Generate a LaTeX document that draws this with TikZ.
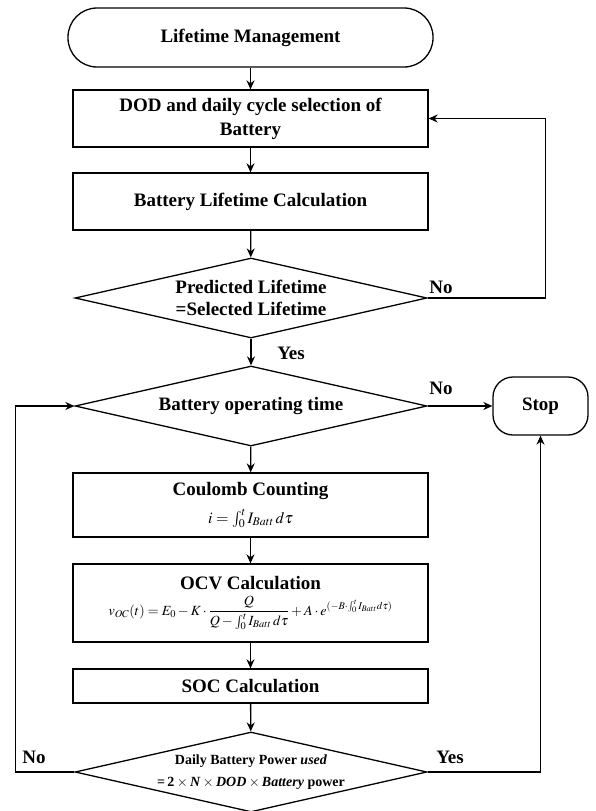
\documentclass[tikz,border=0pt]{standalone}
\usepackage{mathptmx}
\usepackage{fontspec}
\setmainfont{Liberation Serif}
\usepackage{tikz}
\usetikzlibrary{arrows.meta,shapes.geometric,positioning}
\tikzset{font=\bfseries\fontsize{19}{22}\selectfont}
\tikzset{every node/.append style={transform shape=false}}
\tikzset{
  procbox/.style={draw,line width=1.3pt,rectangle,minimum width=355pt,inner sep=2pt,align=center},
  termbox/.style={draw,line width=1.3pt,rectangle,rounded corners=29pt,minimum width=365pt,minimum height=59pt},
  decide/.style={draw,line width=1.3pt,diamond,aspect=4.4,minimum width=352pt,minimum height=80pt,inner sep=0pt,align=center},
  flow/.style={line width=1.3pt,-{Stealth[length=9pt,width=8pt]}},
  lbl/.style={inner sep=0pt}
}
\newcommand{\mfont}{\fontsize{14}{17}\selectfont}

\begin{document}
\begin{tikzpicture}[x=1pt,y=-1pt]
  \useasboundingbox (0,0) rectangle (595,811);

  % main column
  \node[termbox] (start) at (250.5,37.5) {Lifetime Management};
  \node[procbox,minimum height=57pt] (dod) at (250.5,118.5)
       {DOD and daily cycle selection of\\[2pt]Battery};
  \node[procbox,minimum height=57pt] (life) at (250.5,201.5)
       {Battery Lifetime Calculation};
  \node[decide] (pred) at (251,298) {Predicted Lifetime\\=Selected Lifetime};
  \node[decide] (optime) at (251,406) {Battery operating time};
  \node[draw,line width=1.3pt,rectangle,rounded corners=20pt,
        minimum width=95pt,minimum height=58pt] (stop) at (540.5,406) {Stop};
  \node[procbox,minimum height=64pt] (coul) at (250.5,505)
       {Coulomb Counting\\[6pt]
        {\fontsize{16}{18}\selectfont\mdseries $i=\int_0^t I_{Batt}\,d\tau$}};
  \node[procbox,minimum height=78pt] (ocv) at (250.5,603)
       {OCV Calculation\\[4pt]
        {\mfont\mdseries $\displaystyle v_{OC}(t)=E_0-K\cdot\frac{Q}{Q-\int_0^t I_{Batt}\,d\tau}
         +A\cdot e^{(-B\cdot\int_0^t I_{Batt}d\tau)}$}};
  \node[procbox,minimum height=34pt] (soc) at (250.5,686) {SOC Calculation};
  \node[decide,font=\bfseries\fontsize{14}{22}\selectfont] (daily) at (251,772)
       {Daily Battery Power \textit{used}\\
        =\,2\,$\times$\,\textit{N}\,$\times$\,\textit{DOD}\,$\times$\,\textit{Battery} power};

  % labels
  \node[lbl] (noA) at (441,287) {No};
  \node[lbl] (yesA) at (291,353) {Yes};
  \node[lbl] (noB) at (441,388) {No};
  \node[lbl] (noC) at (34,757) {No};
  \node[lbl] (yesC) at (450,757) {Yes};

  % arrows
  \draw[flow] (start) -- (dod);
  \draw[flow] (dod) -- (life);
  \draw[flow] (life) -- (pred);
  \draw[flow] (pred) -- (optime);
  \draw[flow] (pred.east) -- ++(118,0) |- (dod.east);
  \draw[flow] (optime) -- (stop);
  \draw[flow] (optime) -- (coul);
  \draw[flow] (coul) -- (ocv);
  \draw[flow] (ocv) -- (soc);
  \draw[flow] (soc) -- (daily);
  \draw[flow] (daily.west) -- ++(-59,0) |- (optime.west);
  \draw[flow] (daily.east) -| (stop.south);
\end{tikzpicture}
\end{document}
